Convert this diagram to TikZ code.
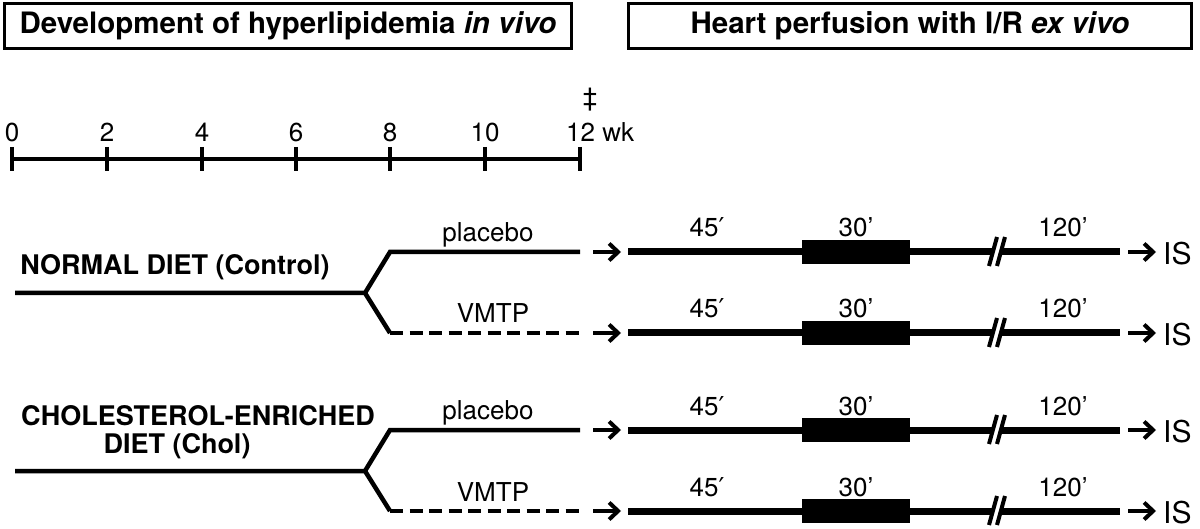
\documentclass[tikz,border=0pt]{standalone}
\usepackage{fontspec}
\setmainfont{TeX Gyre Heros}
\newfontfamily\djv{DejaVu Sans}
\usetikzlibrary{arrows.meta}
\begin{document}
\begin{tikzpicture}[x=1pt,y=-1pt,
  titlebox/.style={draw,line width=3pt,minimum height=45pt,inner sep=0pt,font=\fontsize{29.5}{32}\selectfont\bfseries},
  num/.style={font=\fontsize{26}{28}\selectfont,inner sep=0pt,anchor=base},
  grp/.style={font=\fontsize{27}{30}\selectfont\bfseries,inner sep=0pt,anchor=base},
  lbl/.style={font=\fontsize{26}{28}\selectfont,inner sep=0pt,anchor=base},
  islbl/.style={font=\fontsize{30}{32}\selectfont,inner sep=0pt,anchor=west},
  branch/.style={line width=4.5pt,line join=miter},
  perf/.style={line width=7pt},
  axis/.style={line width=4.5pt},
  tickline/.style={line width=4pt},
  arr/.style={line width=4pt,-{Straight Barb[length=9pt,width=17pt]}},
  brk/.style={line width=4pt},
  ischem/.style={fill=black,minimum width=108pt,minimum height=24pt,inner sep=0pt},
]
\useasboundingbox (0,0) rectangle (1200,529);
\fill[white] (0,0) rectangle (1200,529);

% titles
\node[titlebox,minimum width=567pt] (t1) at (288,26) {Development of hyperlipidemia \textit{in vivo}};
\node[titlebox,minimum width=563pt] (t2) at (910,26) {Heart perfusion with I/R \textit{ex vivo}};

% timeline
\coordinate (ax0) at (12,159);
\coordinate (ax12) at (580,159);
\draw[axis] (ax0) -- (ax12);
\foreach \n/\x in {0/12,2/107,4/202,6/296,8/390,10/485}{
  \coordinate (tk\n a) at (\x,147);
  \coordinate (tk\n b) at (\x,171);
  \draw[tickline] (tk\n a) -- (tk\n b);
  \node[num] (wk\n) at (\x,142) {\n};
}
\coordinate (tk12a) at (580,147);
\coordinate (tk12b) at (580,171);
\draw[tickline] (tk12a) -- (tk12b);
\node[num,anchor=base west] (wk12) at (566,142) {12 wk};
\node[font=\fontsize{26}{28}\selectfont,inner sep=0pt] (dd) at (590,100) {‡};

% diet groups
\node[grp] (gN) at (175,275) {NORMAL DIET (Control)};
\node[grp] (gC1) at (198,425) {CHOLESTEROL-ENRICHED};
\node[grp] (gC2) at (177,453) {DIET (Chol)};

\foreach \g/\t/\u/\l in {N/293/252/333, C/471/430/511}{
  \coordinate (\g s) at (15,\t);
  \coordinate (\g b) at (365,\t);
  \coordinate (\g pa) at (390,\u);
  \coordinate (\g pb) at (580,\u);
  \coordinate (\g va) at (390,\l);
  \coordinate (\g vb) at (580,\l);
  \draw[branch] (\g s) -- (\g b) -- (\g pa) -- (\g pb);
  \draw[branch] (\g b) -- (\g va);
  \draw[branch,dash pattern=on 13pt off 6.5pt] (\g va) -- (\g vb);
  \node[lbl] (\g pl) at (488,\u-10) {placebo};
  \node[lbl] (\g vl) at (493,\l-10) {VMTP};
}

% perfusion rows
\foreach \r/\y in {1/252,2/333,3/430,4/511}{
  \coordinate (a\r s) at (593,\y);
  \coordinate (a\r e) at (621,\y);
  \coordinate (p\r s) at (628,\y);
  \coordinate (p\r e) at (1120,\y);
  \coordinate (i\r s) at (1128,\y);
  \coordinate (i\r e) at (1156,\y);
  \draw[arr] (a\r s) -- (a\r e);
  \draw[perf] (p\r s) -- (p\r e);
  \node[ischem] (box\r) at (856,\y) {};
  \fill[white] (989,\y+14) -- (997,\y-15) -- (1005,\y-15) -- (997,\y+14) -- cycle;
  \draw[brk] (989,\y+14) -- (997,\y-15);
  \draw[brk] (997,\y+14) -- (1005,\y-15);
  \draw[arr] (i\r s) -- (i\r e);
  \node[islbl] (is\r) at (1163,\y+2) {IS};
  \node[lbl] (m45\r) at (707,\y-15) {45{\djv ′}};
  \node[lbl] (m30\r) at (856,\y-15) {30’};
  \node[lbl] (m120\r) at (1063,\y-15) {120’};
}
\end{tikzpicture}
\end{document}
